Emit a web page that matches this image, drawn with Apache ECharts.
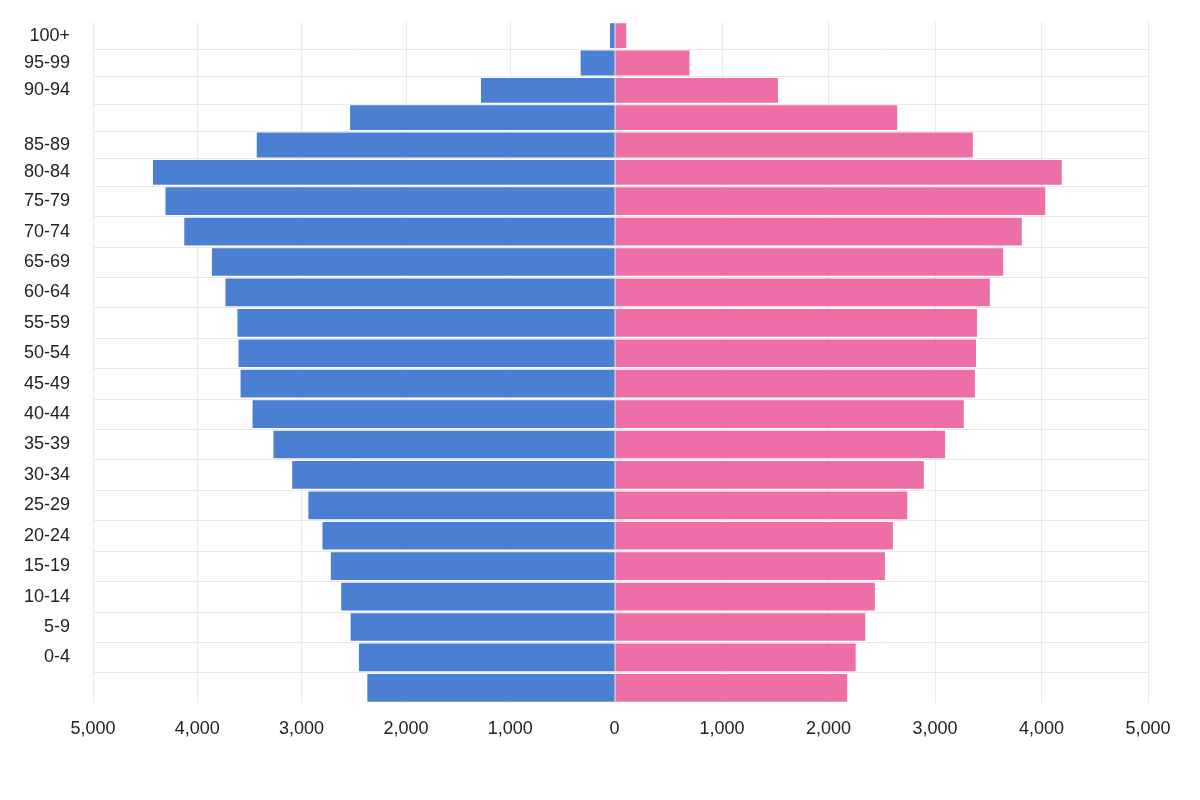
<!DOCTYPE html>
<html>
<head>
<meta charset="utf-8">
<script src="https://cdn.jsdelivr.net/npm/echarts@6/dist/echarts.min.js"></script>
<style>
html,body{margin:0;padding:0;background:#fff;}
#chart{width:1200px;height:800px;}
</style>
</head>
<body>
<div id="chart"></div>
<script>
// Categories listed top to bottom as drawn (two bars carry no label in the source picture)
var ageGroups = ['100+', '95-99', '90-94', '', '85-89', '80-84', '75-79', '70-74', '65-69', '60-64', '55-59', '50-54', '45-49', '40-44', '35-39', '30-34', '25-29', '20-24', '15-19', '10-14', '5-9', '0-4', ''];
var male =   [43, 325, 1280, 2535, 3430, 4425, 4305, 4125, 3860, 3730, 3615, 3605, 3585, 3470, 3270, 3090, 2935, 2800, 2720, 2620, 2530, 2450, 2370];
var female = [100, 695, 1525, 2645, 3355, 4190, 4035, 3815, 3640, 3515, 3395, 3385, 3375, 3270, 3095, 2895, 2740, 2605, 2530, 2435, 2345, 2255, 2175];
var axisMax = 5000;
var axisStep = 1000;
var topCount = 6; // the upper rows are drawn a little tighter in the source

var FONT = "'Liberation Sans', Arial, sans-serif";
var TEXT = '#222';
var GRIDC = '#e9e9e9';
var BLUE = '#4a7fd1';
var PINK = '#ee6fa7';

var topCats = ageGroups.slice(0, topCount), botCats = ageGroups.slice(topCount);
var topMale = male.slice(0, topCount), botMale = male.slice(topCount);
var topFemale = female.slice(0, topCount), botFemale = female.slice(topCount);

function xAx(gi, inverse, showLabels) {
  return {
    type: 'value', gridIndex: gi, min: 0, max: axisMax, interval: axisStep, inverse: inverse,
    axisLine: {show: false}, axisTick: {show: false},
    splitLine: {show: true, lineStyle: {color: GRIDC, width: 1}},
    axisLabel: {
      show: showLabels, color: TEXT, fontSize: 18, fontFamily: FONT, margin: 17,
      showMinLabel: inverse ? true : false,
      formatter: function (v) { return v.toLocaleString('en-US'); }
    }
  };
}
function yAx(gi, cats, showLabels, showMaxLine) {
  return {
    type: 'category', gridIndex: gi, data: cats, inverse: true,
    axisLine: {show: false}, axisTick: {show: false},
    splitLine: {show: true, showMinLine: false, showMaxLine: showMaxLine, lineStyle: {color: GRIDC, width: 1}},
    axisLabel: {show: showLabels, color: TEXT, fontSize: 18, fontFamily: FONT, margin: 23}
  };
}
function barS(xi, yi, data, color) {
  return {
    type: 'bar', xAxisIndex: xi, yAxisIndex: yi, data: data,
    barCategoryGap: '9%', itemStyle: {color: color}, silent: true
  };
}

var chart = echarts.init(document.getElementById('chart'), null, {renderer: 'canvas'});
chart.setOption({
  animation: false,
  backgroundColor: '#fff',
  grid: [
    {left: 93, right: 585.5, top: 22, height: 164},
    {left: 615.5, right: 52, top: 22, height: 164},
    {left: 93, right: 585.5, top: 186, bottom: 97},
    {left: 615.5, right: 52, top: 186, bottom: 97}
  ],
  xAxis: [xAx(0, true, false), xAx(1, false, false), xAx(2, true, true), xAx(3, false, true)],
  yAxis: [yAx(0, topCats, true, true), yAx(1, topCats, false, true), yAx(2, botCats, true, false), yAx(3, botCats, false, false)],
  series: [
    barS(0, 0, topMale, BLUE),
    barS(1, 1, topFemale, PINK),
    barS(2, 2, botMale, BLUE),
    barS(3, 3, botFemale, PINK)
  ]
});
</script>
</body>
</html>
